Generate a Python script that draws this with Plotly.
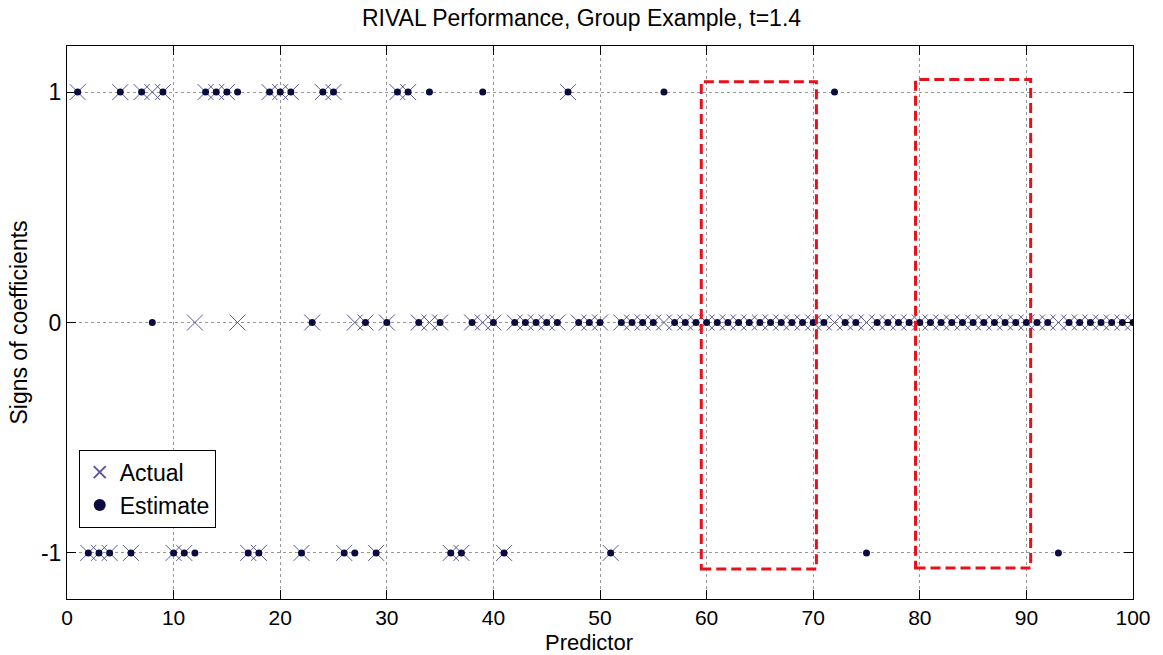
import plotly.graph_objects as go

predictors = list(range(1, 101))

# Actual signs for predictors 1..100
actual = [1, -1, -1, -1, 1, -1, 1, 1, 1, -1,
          -1, 0, 1, 1, 1, 0, -1, -1, 1, 1,
          1, -1, 0, 1, 1, -1, 0, 0, -1, 0,
          1, 1, 0, 0, 0, -1, -1, 0, 0, 0,
          -1, 0, 0, 0, 0, 0, 1, 0, 0, 0,
          -1] + [0] * 49

# Estimated signs for predictors 1..100
estimate = [1, -1, -1, -1, 1, -1, 1, 0, 1, -1,
            -1, -1, 1, 1, 1, 1, -1, -1, 1, 1,
            1, -1, 0, 1, 1, -1, -1, 0, -1, 0,
            1, 1, 0, 1, 0, -1, -1, 0, 1, 0,
            -1, 0, 0, 0, 0, 0, 1, 0, 0, 0,
            -1, 0, 0, 0, 0, 1, 0, 0, 0, 0,
            0, 0, 0, 0, 0, 0, 0, 0, 0, 0,
            0, 1, 0, 0, -1, 0, 0, 0, 0, 0,
            0, 0, 0, 0, 0, 0, 0, 0, 0, 0,
            0, 0, -1, 0, 0, 0, 0, 0, 0, 0]

# Highlight boxes (x0, x1, y0, y1)
box_x0 = [59.5, 79.6]
box_x1 = [70.3, 90.4]
box_y0 = [-1.07, -1.065]
box_y1 = [1.045, 1.055]

x_ticks = list(range(0, 101, 10))
y_ticks = [-1, 0, 1]

font_family = "Liberation Sans, Arial, sans-serif"

fig = go.Figure()
fig.add_trace(go.Scatter(
    x=predictors, y=actual, mode="markers", name="Actual",
    marker=dict(symbol="x-thin", size=16, color="#5a5a9a",
                line=dict(width=1, color="#5a5a9a")),
))
fig.add_trace(go.Scatter(
    x=predictors, y=estimate, mode="markers", name="Estimate",
    marker=dict(symbol="circle", size=7, color="#0b0b3f"),
))

for x0, x1, y0, y1 in zip(box_x0, box_x1, box_y0, box_y1):
    fig.add_shape(type="rect", x0=x0, x1=x1, y0=y0, y1=y1, xref="x", yref="y",
                  line=dict(color="#e8101a", width=3, dash="10px,5px"),
                  fillcolor="rgba(0,0,0,0)")

fig.add_annotation(text="Predictor", xref="paper", yref="paper", x=0.49, y=-0.079,
                   xanchor="center", yanchor="middle", showarrow=False,
                   font=dict(size=22, family=font_family, color="black"))

fig.update_layout(
    width=1163, height=655,
    margin=dict(l=67, r=30, t=46, b=56),
    paper_bgcolor="white", plot_bgcolor="white",
    font=dict(family=font_family, color="black"),
    title=dict(text="RIVAL Performance, Group Example, t=1.4", x=0.5, xanchor="center",
               y=0.972, yanchor="middle", font=dict(size=23, family=font_family)),
    showlegend=True,
    legend=dict(x=0.011, y=0.27, xanchor="left", yanchor="top",
                bordercolor="black", borderwidth=1, bgcolor="white",
                font=dict(size=23, family=font_family),
                itemsizing="constant", tracegroupgap=0),
)

fig.update_xaxes(
    range=[0, 100], tickvals=x_ticks, ticktext=[str(v) for v in x_ticks],
    showgrid=True, gridcolor="#999999", griddash="dot", gridwidth=1,
    showline=True, linecolor="black", linewidth=1, mirror="ticks",
    ticks="inside", ticklen=9, tickcolor="black",
    tickfont=dict(size=21, family=font_family),
    zeroline=False, automargin=False,
)
fig.update_yaxes(
    range=[-1.2, 1.2], tickvals=y_ticks, ticktext=[str(v) for v in y_ticks],
    showgrid=True, gridcolor="#999999", griddash="dot", gridwidth=1,
    showline=True, linecolor="black", linewidth=1, mirror="ticks",
    ticks="inside", ticklen=9, tickcolor="black",
    tickfont=dict(size=23, family=font_family),
    zeroline=False, automargin=False,
    title=dict(text="Signs of coefficients", font=dict(size=23, family=font_family), standoff=6),
)

fig.write_html("out.html")
